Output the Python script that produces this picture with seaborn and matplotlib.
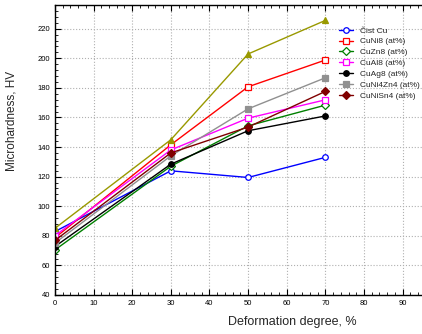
import matplotlib
matplotlib.use("Agg")
import matplotlib.pyplot as plt
import seaborn as sns
import pandas as pd
from matplotlib.ticker import MultipleLocator

sns.set_style("white")
plt.rcParams['font.family'] = ['Liberation Sans', 'DejaVu Sans']

deformation = [0, 30, 50, 70]
cist_cu = [82.8, 123.9, 119.4, 133.0]
cuni8 = [78.6, 141.5, 180.7, 198.8]
cuzn8 = [70.4, 127.0, 154.3, 168.3]
cual8 = [80.0, 138.0, 159.5, 171.9]
cuag8 = [72.7, 128.4, 151.0, 161.0]
cuni4zn4 = [75.0, 134.0, 165.8, 186.8]
cunisn4 = [76.8, 136.0, 153.5, 177.6]
unlabeled = [85.0, 144.9, 202.9, 225.6]

series = [
    ("Čist Cu", cist_cu, "#0000ff", "o", "white"),
    ("CuNi8 (at%)", cuni8, "#ff0000", "s", "white"),
    ("CuZn8 (at%)", cuzn8, "#008000", "D", "white"),
    ("CuAl8 (at%)", cual8, "#ff00ff", "s", "white"),
    ("CuAg8 (at%)", cuag8, "#000000", "o", None),
    ("CuNi4Zn4 (at%)", cuni4zn4, "#909090", "s", None),
    ("CuNiSn4 (at%)", cunisn4, "#800000", "D", None),
    ("_nolegend_", unlabeled, "#999900", "^", None),
]

fig = plt.figure(figsize=(4.22, 3.34), dpi=100)
ax = fig.add_axes([0.130, 0.117, 0.870, 0.868])

for label, vals, col, mk, mfc in series:
    df = pd.DataFrame({"x": deformation, "y": vals})
    sns.lineplot(data=df, x="x", y="y", ax=ax, color=col, marker=mk,
                 markersize=4, linewidth=1.0, label=label,
                 markerfacecolor=(mfc if mfc else col), markeredgecolor=col,
                 markeredgewidth=0.9)

ax.set_xlim(0, 95)
ax.set_ylim(40, 236)
ax.xaxis.set_major_locator(MultipleLocator(10))
ax.xaxis.set_minor_locator(MultipleLocator(2))
ax.yaxis.set_major_locator(MultipleLocator(20))
ax.yaxis.set_minor_locator(MultipleLocator(4))
ax.tick_params(which="both", direction="in", top=True, left=True, bottom=True, right=False,
               labelsize=5.5, colors="black")
ax.tick_params(which="major", length=4, width=0.8)
ax.tick_params(which="minor", length=2, width=0.6)
ax.grid(True, which="major", linestyle=":", color="#b0b0b0", linewidth=0.8)
for s in ["left", "bottom", "top"]:
    ax.spines[s].set_color("black")
    ax.spines[s].set_linewidth(1.0)
ax.spines["right"].set_visible(False)
ax.set_xlabel("Deformation degree, %", fontsize=9)
ax.set_ylabel("Microhardness, HV", fontsize=8.5)
ax.xaxis.set_label_coords(0.648, -0.072)
ax.yaxis.set_label_coords(-0.102, 0.6)

leg = ax.legend(loc="upper left", bbox_to_anchor=(0.774, 0.925), frameon=False,
                fontsize=6, handlelength=1.7, handletextpad=0.85,
                labelspacing=0.36, borderaxespad=0, borderpad=0)

fig.savefig("out.png", dpi=100)
